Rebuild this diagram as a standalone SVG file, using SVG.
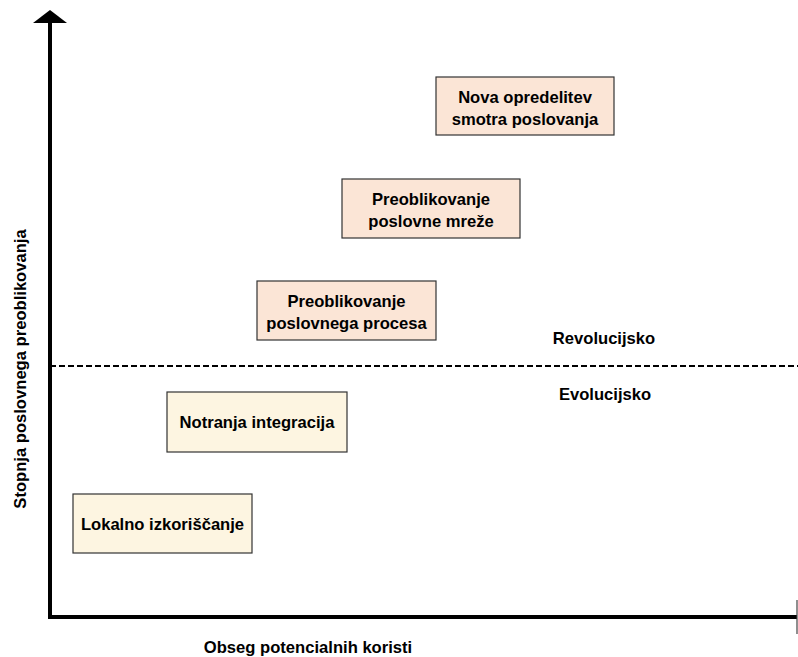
<svg xmlns="http://www.w3.org/2000/svg" width="798" height="657" viewBox="0 0 798 657">
<style>
text{font-family:"Liberation Sans",Arial,sans-serif;font-weight:bold;font-size:16.6px;fill:#000;text-anchor:middle}
.up{fill:#FBE5D6;stroke:#333;stroke-width:1.2}
.lo{fill:#FDF5E1;stroke:#333;stroke-width:1.2}
</style>
<rect width="798" height="657" fill="#fff"/>
<g id="connectors">
<line x1="50" y1="619" x2="50" y2="22" stroke="#000" stroke-width="4"/>
<polygon points="50,10 33,23 67,23" fill="#000"/>
<line x1="48" y1="617" x2="797" y2="617" stroke="#000" stroke-width="4"/>
<line x1="797" y1="600" x2="797" y2="634" stroke="#444" stroke-width="1.2"/>
<line x1="50" y1="366" x2="798" y2="366" stroke="#000" stroke-width="2" stroke-dasharray="6,3"/>
</g>
<g id="n1"><rect class="up" x="436" y="77" width="178" height="58"/><text x="525" y="103">Nova opredelitev</text><text x="525" y="125">smotra poslovanja</text></g>
<g id="n2"><rect class="up" x="342" y="179" width="178" height="59"/><text x="431" y="205">Preoblikovanje</text><text x="431" y="227">poslovne mreže</text></g>
<g id="n3"><rect class="up" x="257" y="281" width="179" height="59"/><text x="346.5" y="307">Preoblikovanje</text><text x="346.5" y="329">poslovnega procesa</text></g>
<g id="n4"><rect class="lo" x="167" y="392" width="180" height="60"/><text x="257" y="428">Notranja integracija</text></g>
<g id="n5"><rect class="lo" x="73" y="494" width="179" height="59"/><text x="162.5" y="530">Lokalno izkoriščanje</text></g>
<g id="labels">
<text x="604" y="344">Revolucijsko</text>
<text x="605" y="400">Evolucijsko</text>
<text x="308" y="653">Obseg potencialnih koristi</text>
<text transform="translate(26,369) rotate(-90)">Stopnja poslovnega preoblikovanja</text>
</g>
</svg>
